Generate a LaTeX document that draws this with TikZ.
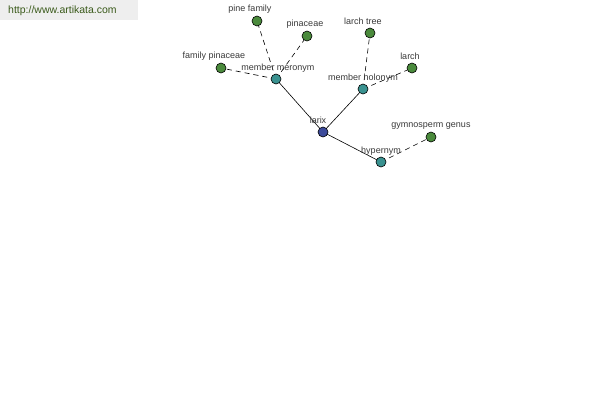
\documentclass[tikz,border=0pt]{standalone}
\usepackage{fontspec}
\setmainfont{Liberation Sans}
\begin{document}
\begin{tikzpicture}[x=1pt,y=-1pt,
  dot/.style={circle,draw=black,line width=0.6pt,minimum size=10pt,inner sep=0pt},
  leaf/.style={dot,fill=leafgreen},
  rel/.style={dot,fill=relteal},
  hub/.style={dot,fill=hubblue},
  lbl/.style={font=\fontsize{9}{10}\selectfont,text=labelgray,inner sep=0pt},
  solidedge/.style={draw=black,line width=0.6pt},
  dashedge/.style={draw=black,line width=0.6pt,dash pattern=on 5pt off 4pt}]
\definecolor{leafgreen}{HTML}{4A8A3C}
\definecolor{relteal}{HTML}{3A9290}
\definecolor{hubblue}{HTML}{3C4A9A}
\definecolor{labelgray}{HTML}{3A3A3A}
\definecolor{urlgreen}{HTML}{3A5A1A}
\useasboundingbox (0,0) rectangle (600,400);
\fill[white] (0,0) rectangle (600,400);
\fill[fill={rgb,255:red,238;green,238;blue,238}] (0,0) rectangle (138,20);
\node[anchor=west,font=\fontsize{10.5}{12}\selectfont,text=urlgreen,inner sep=0pt] (url) at (8,11) {http://www.artikata.com};
% nodes
\coordinate (larixP) at (323,132);
\coordinate (merP) at (276,79);
\coordinate (holP) at (363,89);
\coordinate (hypP) at (381,162);
\coordinate (pineP) at (257,21);
\coordinate (pinaP) at (307,36);
\coordinate (fampP) at (221,68);
\coordinate (ltreeP) at (370,33);
\coordinate (larchP) at (412,68);
\coordinate (gymP) at (431,137);
% edges
\draw[solidedge] (larixP) -- (merP);
\draw[solidedge] (larixP) -- (holP);
\draw[solidedge] (larixP) -- (hypP);
\draw[dashedge] (merP) -- (pineP);
\draw[dashedge] (merP) -- (pinaP);
\draw[dashedge] (merP) -- (fampP);
\draw[dashedge] (holP) -- (ltreeP);
\draw[dashedge] (holP) -- (larchP);
\draw[dashedge] (hypP) -- (gymP);
% labels
\node[lbl] (larixL) at (318,120) {larix};
\node[lbl] (merL) at (278,68) {member meronym};
\node[lbl] (holL) at (363,78) {member holonym};
\node[lbl] (hypL) at (381,151) {hypernym};
\node[lbl] (pineL) at (250,9) {pine family};
\node[lbl] (pinaL) at (305,24) {pinaceae};
\node[lbl] (fampL) at (214,56) {family pinaceae};
\node[lbl] (ltreeL) at (363,21) {larch tree};
\node[lbl] (larchL) at (410,56) {larch};
\node[lbl] (gymL) at (431,126) {gymnosperm genus};
% dots
\node[hub] (larix) at (larixP) {};
\node[rel] (mer) at (merP) {};
\node[rel] (hol) at (holP) {};
\node[rel] (hyp) at (hypP) {};
\node[leaf] (pine) at (pineP) {};
\node[leaf] (pina) at (pinaP) {};
\node[leaf] (famp) at (fampP) {};
\node[leaf] (ltree) at (ltreeP) {};
\node[leaf] (larch) at (larchP) {};
\node[leaf] (gym) at (gymP) {};
\end{tikzpicture}
\end{document}
